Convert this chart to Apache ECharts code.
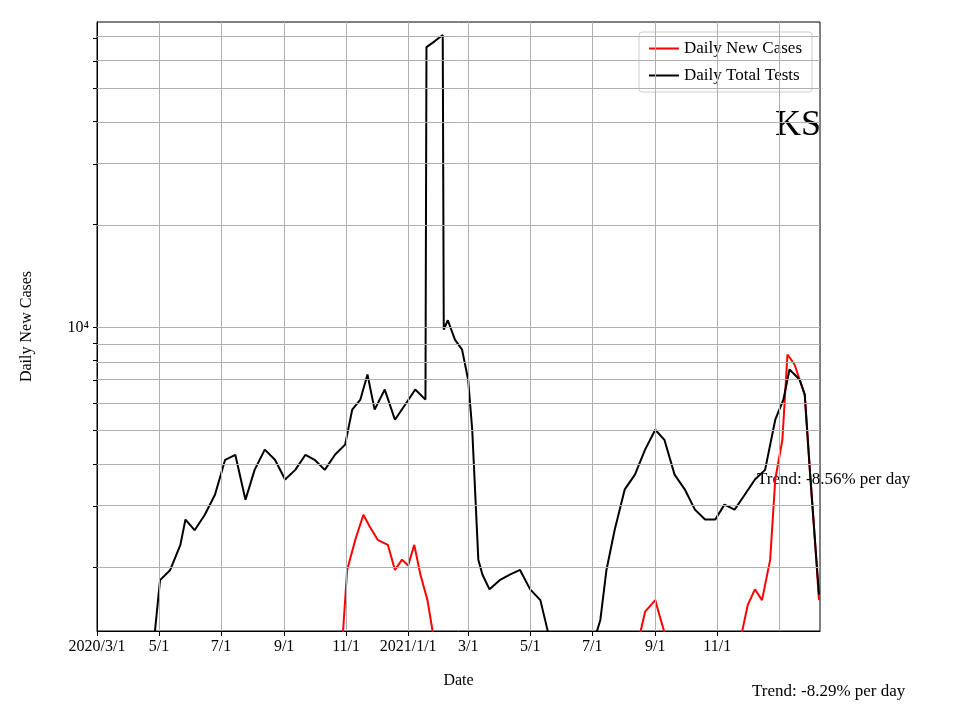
<!DOCTYPE html>
<html><head><meta charset="utf-8">
<script src="https://cdn.jsdelivr.net/npm/echarts@6/dist/echarts.min.js"></script>
<style>body{margin:0}#c{width:960px;height:720px}</style></head>
<body><div id="c"></div>
<script>
// day offsets from 2020-03-01 and values
const testDays = [57,62,72,82,87,96,106,116,126,136,146,155,165,175,185,195,205,214,224,234,244,251,259,266,273,283,293,303,313,323,324,332,340,341,345,352,359,365,369,375,379,386,396,406,416,426,436,443,447,460,480,495,501,509,519,529,539,549,558,568,578,588,598,608,617,627,637,647,657,667,675,681,686,691,696,701,706,710];
const testVals = [1300,1830,1960,2320,2750,2560,2840,3250,4110,4250,3140,3840,4400,4110,3600,3840,4250,4110,3840,4250,4550,5760,6160,7290,5760,6590,5380,5950,6590,6160,65900,68500,71500,9870,10500,9220,8620,7040,5030,2100,1900,1720,1830,1900,1960,1720,1600,1310,1100,1000,1000,1400,1960,2560,3370,3720,4400,5030,4700,3720,3370,2940,2750,2750,3040,2940,3250,3600,3840,5380,6160,7540,7290,7040,6370,3840,2400,1660];
const caseDays = [238,242,246,254,262,268,276,286,293,300,306,312,318,325,330,334,532,539,549,553,561,632,640,647,654,662,667,674,679,686,691,696,701,706,710];
const caseVals = [1000,1300,1960,2400,2840,2630,2400,2320,1960,2100,2020,2320,1900,1600,1300,1000,1200,1480,1600,1450,1200,1200,1550,1720,1600,2100,3600,4700,8340,7800,7040,6370,3840,2400,1600];
// tick positions in days from 2020-03-01
const xTickDays = [0,61,122,184,245,306,365,426,487,549,610];
const xTickLabels = ['2020/3/1','5/1','7/1','9/1','11/1','2021/1/1','3/1','5/1','7/1','9/1','11/1'];
const yGridVals = [2000,3000,4000,5000,6000,7000,8000,9000,10000,20000,30000,40000,50000,60000,70000];

const toPts = (ds, vs) => ds.map((d, i) => [d, Math.log10(vs[i])]);
const font = 'Liberation Serif';

const gridLines = [
  ...yGridVals.map(v => ({ yAxis: Math.log10(v) })),
  ...xTickDays.slice(1).map(d => ({ xAxis: d })),
  { xAxis: 671 },
];

const chart = echarts.init(document.getElementById('c'));
chart.setOption({
  animation: false,
  textStyle: { fontFamily: font },
  grid: { left: 97, right: 140, top: 22, bottom: 89, show: true, borderColor: '#000', borderWidth: 1 },
  legend: {
    right: 148, top: 32, orient: 'vertical', itemWidth: 30, itemGap: 10,
    padding: [8, 10], borderColor: '#ccc', borderWidth: 1, borderRadius: 3, backgroundColor: 'rgba(255,255,255,0.85)',
    textStyle: { fontFamily: font, fontSize: 17, color: '#000' },
    data: [{ name: 'Daily New Cases', icon: 'path://M0,0H30V2H0Z' }, { name: 'Daily Total Tests', icon: 'path://M0,0H30V2H0Z' }],
  },
  xAxis: {
    type: 'value', min: 0, max: 711,
    name: 'Date', nameLocation: 'middle', nameGap: 42, nameTextStyle: { fontFamily: font, fontSize: 16, color: '#000' },
    axisLine: { lineStyle: { color: '#000' } },
    axisTick: { customValues: xTickDays, length: 5, lineStyle: { color: '#000' } },
    axisLabel: {
      customValues: xTickDays, color: '#000', fontFamily: font, fontSize: 16, margin: 8,
      formatter: v => xTickLabels[xTickDays.indexOf(v)] || '',
    },
    splitLine: { show: false },
  },
  yAxis: {
    type: 'value', min: Math.log10(1300), max: Math.log10(78000),
    name: 'Daily New Cases', nameLocation: 'middle', nameGap: 62, nameTextStyle: { fontFamily: font, fontSize: 16, color: '#000' },
    axisLine: { show: true, lineStyle: { color: '#000' } },
    axisTick: { customValues: yGridVals.map(v => Math.log10(v)), length: 4, lineStyle: { color: '#000' } },
    axisLabel: { customValues: [4], color: '#000', fontFamily: font, fontSize: 16, formatter: () => '10⁴' },
    splitLine: { show: false },
  },
  graphic: [
    { type: 'text', left: 775, top: 108, style: { text: 'KS', font: '36px "Liberation Serif"', fill: '#000' } },
    { type: 'text', left: 757, top: 471, style: { text: 'Trend: -8.56% per day', font: '17px "Liberation Serif"', fill: '#000' } },
    { type: 'text', left: 752, top: 683, style: { text: 'Trend: -8.29% per day', font: '17px "Liberation Serif"', fill: '#000' } },
  ],
  series: [
    {
      name: 'grid', type: 'line', data: [], silent: true,
      markLine: { symbol: 'none', silent: true, label: { show: false }, lineStyle: { color: '#b0b0b0', type: 'solid', width: 1 }, data: gridLines },
    },
    { name: 'Daily New Cases', type: 'line', data: toPts(caseDays, caseVals), showSymbol: false, clip: true, color: '#ff0000', lineStyle: { width: 2 } },
    { name: 'Daily Total Tests', type: 'line', data: toPts(testDays, testVals), showSymbol: false, clip: true, color: '#000', lineStyle: { width: 2 } },
  ],
});
</script></body></html>
